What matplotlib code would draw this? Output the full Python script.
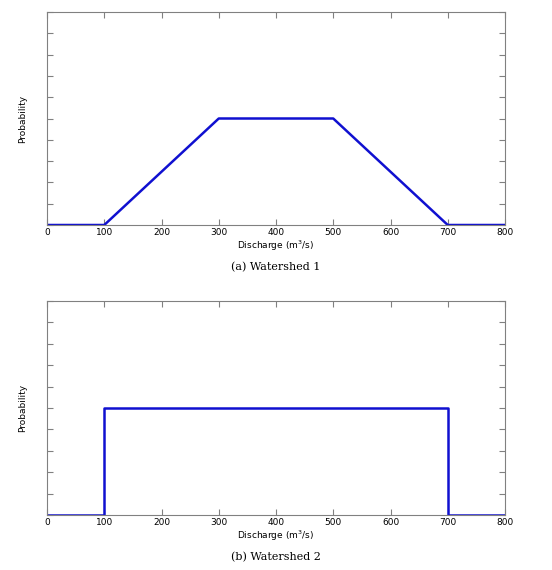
import matplotlib
matplotlib.use("Agg")
import matplotlib.pyplot as plt

# watershed 1: trapezoid, watershed 2: uniform (relative probability, y axis unlabeled)
q1 = [0, 100, 300, 500, 700, 800]
p1 = [0, 0, 0.5, 0.5, 0, 0]
q2 = [0, 100, 100, 700, 700, 800]
p2 = [0, 0, 0.5, 0.5, 0, 0]
xticks = [0, 100, 200, 300, 400, 500, 600, 700, 800]
captions = ["(a) Watershed 1", "(b) Watershed 2"]

W, H = 552, 570
fig = plt.figure(figsize=(W / 100, H / 100), dpi=100)

# axes boxes in pixels: left, top, right, bottom
boxes = [(47, 12, 505, 225), (47, 301, 505, 515)]
for (l, t, r, b), q, p, cap in zip(boxes, [q1, q2], [p1, p2], captions):
    ax = fig.add_axes([l / W, 1 - b / H, (r - l) / W, (b - t) / H])
    ax.plot(q, p, color="#1010d0", lw=1.8)
    ax.set_xlim(0, 800)
    ax.set_ylim(0, 1)
    ax.set_xticks(xticks)
    ax.set_yticks([i / 10 for i in range(11)])
    ax.set_yticklabels([])
    ax.tick_params(direction="in", top=True, right=True, length=4,
                   color="#808080", labelsize=6.5, pad=2)
    for s in ax.spines.values():
        s.set_color("#808080")
        s.set_linewidth(0.8)
    ax.set_xlabel("Discharge (m$^3$/s)", fontsize=6.5, labelpad=1)
    ax.set_ylabel("Probability", fontsize=6.5, labelpad=12)
    fig.text((l + r) / 2 / W, 1 - (b + 42) / H, cap, ha="center", va="center",
             fontsize=8, family="DejaVu Serif")

fig.savefig("out.png", dpi=100)
